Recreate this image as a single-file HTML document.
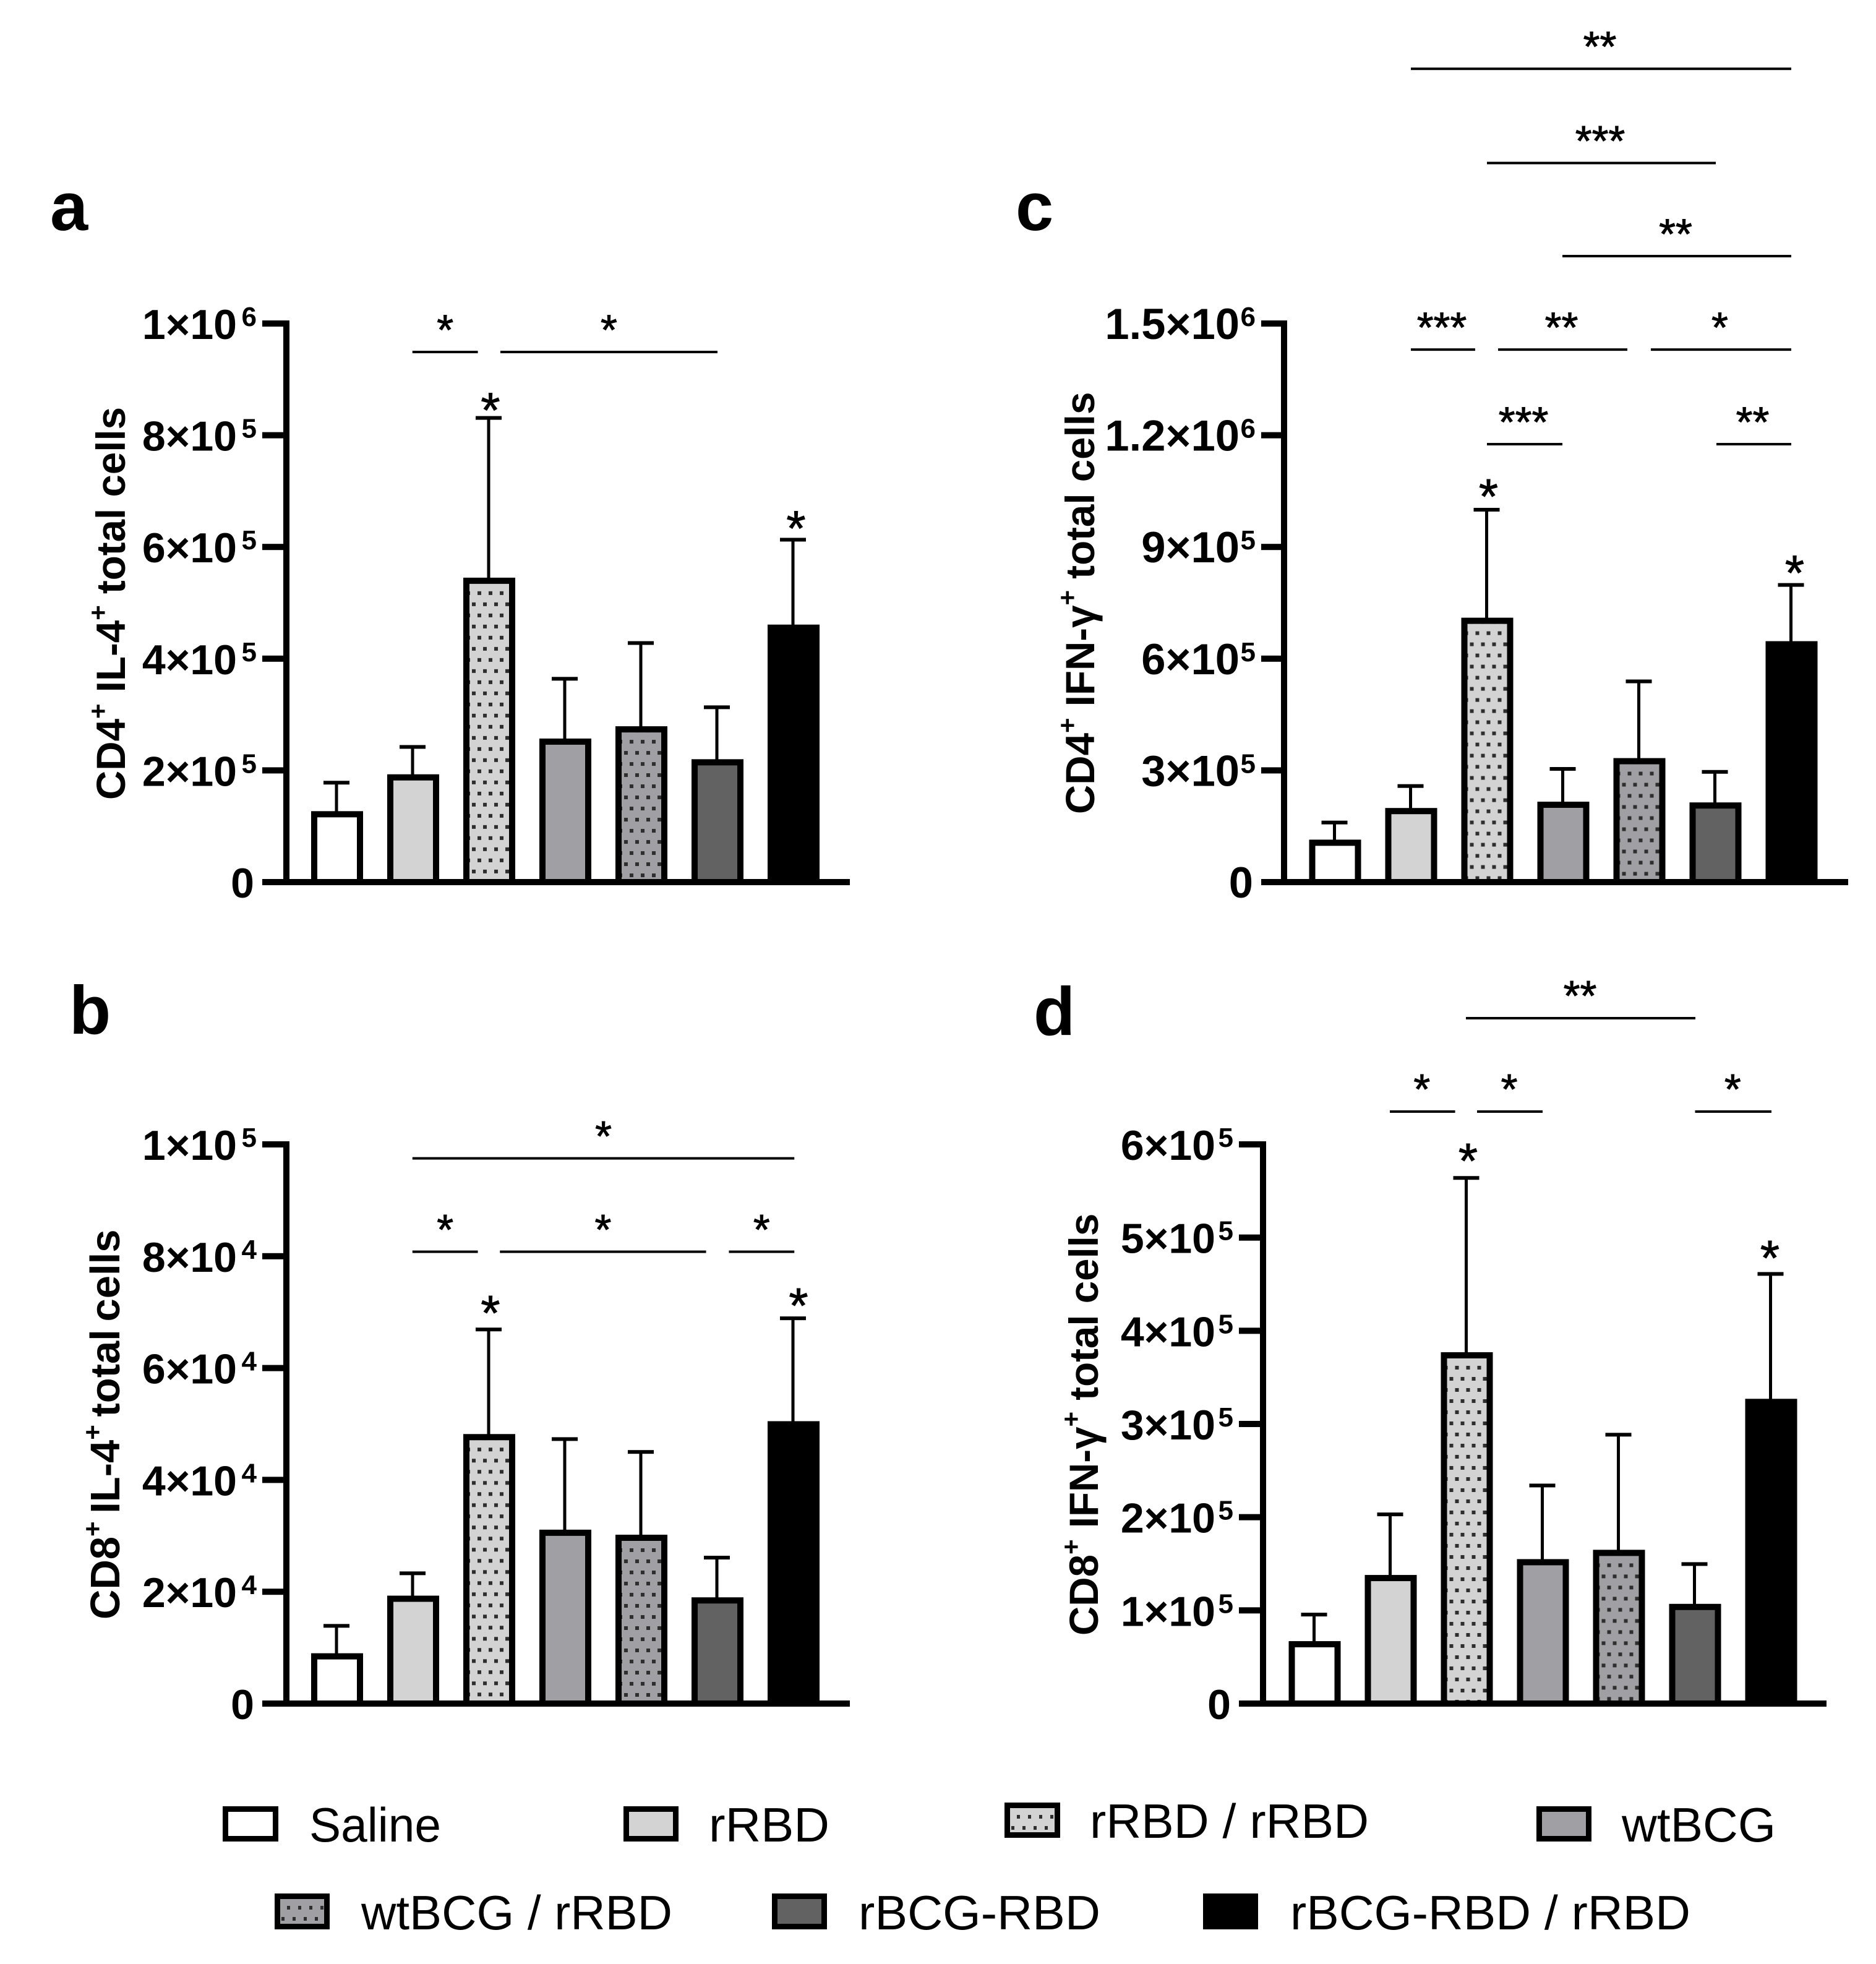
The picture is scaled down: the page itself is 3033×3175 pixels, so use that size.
<!DOCTYPE html>
<html lang="en">
<head>
<meta charset="utf-8">
<title>T cell cytokine bar charts</title>
<style>
html,body{margin:0;padding:0;background:#fff;}
svg{display:block;}
text{font-family:"Liberation Sans",Arial,sans-serif;fill:#000;}
.letter{font-weight:700;font-size:110px;}
.ytitle{font-weight:700;font-size:65.5px;}
.legend{font-size:78px;}
</style>
</head>
<body>
<svg id="chart" xmlns="http://www.w3.org/2000/svg" width="3033" height="3175" viewBox="0 0 3033 3175">
  <rect x="0" y="0" width="3033" height="3175" fill="#fff"/>
  <defs id="defs">
    <pattern id="legend-dots-a" patternUnits="userSpaceOnUse" x="1635" y="2922" width="18" height="36"><rect x="9" y="12" width="5" height="6" fill="#2e2e2e"/><rect x="0" y="30" width="5" height="6" fill="#2e2e2e"/></pattern>
    <pattern id="legend-dots-b" patternUnits="userSpaceOnUse" x="455" y="3069" width="18" height="36"><rect x="9" y="12" width="5" height="6" fill="#2e2e2e"/><rect x="0" y="30" width="5" height="6" fill="#2e2e2e"/></pattern>
  </defs>

  <text class="letter" x="81" y="372">a</text>
  <text class="letter" x="112" y="1671">b</text>
  <text class="letter" x="1642" y="372">c</text>
  <text class="letter" x="1671" y="1673">d</text>

  <text class="ytitle" transform="translate(202,1293) rotate(-90)">CD4<tspan font-size="42" dy="-29">+</tspan><tspan dy="29"> IL-4</tspan><tspan font-size="42" dy="-29">+</tspan><tspan dy="29"> total cells</tspan></text>
  <text class="ytitle" style="font-size:67px;word-spacing:-6px" transform="translate(193,2618) rotate(-90)">CD8<tspan font-size="42" dy="-29">+</tspan><tspan dy="29"> IL-4</tspan><tspan font-size="42" dy="-29">+</tspan><tspan dy="29"> total cells</tspan></text>
  <text class="ytitle" transform="translate(1769,1316) rotate(-90)">CD4<tspan font-size="42" dy="-29">+</tspan><tspan dy="29"> IFN-γ</tspan><tspan font-size="42" dy="-29">+</tspan><tspan dy="29"> total cells</tspan></text>
  <text class="ytitle" transform="translate(1775,2644) rotate(-90)">CD8<tspan font-size="42" dy="-29">+</tspan><tspan dy="29"> IFN-γ</tspan><tspan font-size="42" dy="-29">+</tspan><tspan dy="29"> total cells</tspan></text>

  <g>
    <g>
      <rect x="364.5" y="2924.5" width="81" height="48" fill="#fff" stroke="#000" stroke-width="9"/>
      <text class="legend" x="500" y="2977" textLength="213" lengthAdjust="spacingAndGlyphs">Saline</text>
    </g>
    <g>
      <rect x="1012.5" y="2924.5" width="80" height="48" fill="#d3d3d3" stroke="#000" stroke-width="9"/>
      <text class="legend" x="1146" y="2977" textLength="195" lengthAdjust="spacingAndGlyphs">rRBD</text>
    </g>
    <g>
      <rect x="1628.5" y="2918.5" width="81" height="48" fill="#d3d3d3" stroke="#000" stroke-width="9"/>
      <rect x="1633" y="2923" width="72" height="39" fill="url(#legend-dots-a)"/>
      <text class="legend" x="1762" y="2971" textLength="451" lengthAdjust="spacingAndGlyphs">rRBD / rRBD</text>
    </g>
    <g>
      <rect x="2488.5" y="2924.5" width="80" height="48" fill="#a0a0a4" stroke="#000" stroke-width="9"/>
      <text class="legend" x="2622" y="2977" textLength="249" lengthAdjust="spacingAndGlyphs">wtBCG</text>
    </g>
    <g>
      <rect x="448.5" y="3065.5" width="80" height="49" fill="#a0a0a4" stroke="#000" stroke-width="9"/>
      <rect x="453" y="3070" width="71" height="40" fill="url(#legend-dots-b)"/>
      <text class="legend" x="584" y="3119" textLength="503" lengthAdjust="spacingAndGlyphs">wtBCG / rRBD</text>
    </g>
    <g>
      <rect x="1252.5" y="3065.5" width="80" height="49" fill="#626262" stroke="#000" stroke-width="9"/>
      <text class="legend" x="1388" y="3119" textLength="391" lengthAdjust="spacingAndGlyphs">rBCG-RBD</text>
    </g>
    <g>
      <rect x="1949.5" y="3065.5" width="80" height="49" fill="#000" stroke="#000" stroke-width="9"/>
      <text class="legend" x="2086" y="3119" textLength="647" lengthAdjust="spacingAndGlyphs">rBCG-RBD / rRBD</text>
    </g>
  </g>
</svg>
<script>
const groups = ['Saline','rRBD','rRBD / rRBD','wtBCG','wtBCG / rRBD','rBCG-RBD','rBCG-RBD / rRBD'];
const groupFills = ['#ffffff','#d3d3d3','#d3d3d3','#a0a0a4','#a0a0a4','#626262','#000000'];
const groupDotted = [false,false,true,false,true,false,false];

const panelAMeans = [1.27e5,1.93e5,5.45e5,2.57e5,2.79e5,2.20e5,4.61e5];
const panelAUppers = [1.78e5,2.42e5,8.31e5,3.64e5,4.28e5,3.13e5,6.13e5];
const panelATicks = [0,2e5,4e5,6e5,8e5,1e6];
const panelATickBase = ['0','2×10','4×10','6×10','8×10','1×10'];
const panelATickExp = ['','5','5','5','5','6'];

const panelBMeans = [0.90e4,1.93e4,4.82e4,3.11e4,3.02e4,1.90e4,5.05e4];
const panelBUppers = [1.39e4,2.33e4,6.69e4,4.73e4,4.50e4,2.61e4,6.89e4];
const panelBTicks = [0,2e4,4e4,6e4,8e4,1e5];
const panelBTickBase = ['0','2×10','4×10','6×10','8×10','1×10'];
const panelBTickExp = ['','4','4','4','4','5'];

const panelCMeans = [1.14e5,1.99e5,7.10e5,2.16e5,3.33e5,2.14e5,6.47e5];
const panelCUppers = [1.60e5,2.58e5,10.0e5,3.04e5,5.39e5,2.96e5,7.98e5];
const panelCTicks = [0,3e5,6e5,9e5,1.2e6,1.5e6];
const panelCTickBase = ['0','3×10','6×10','9×10','1.2×10','1.5×10'];
const panelCTickExp = ['','5','5','5','6','6'];

const panelDMeans = [0.67e5,1.38e5,3.77e5,1.55e5,1.65e5,1.07e5,3.27e5];
const panelDUppers = [0.955e5,2.03e5,5.64e5,2.34e5,2.885e5,1.497e5,4.61e5];
const panelDTicks = [0,1e5,2e5,3e5,4e5,5e5,6e5];
const panelDTickBase = ['0','1×10','2×10','3×10','4×10','5×10','6×10'];
const panelDTickExp = ['','5','5','5','5','5','5'];

/* significance brackets: from / to in group-index units, level in axis units */
const panelASigFrom = [0.99,2.146];
const panelASigTo = [1.85,5.0];
const panelASigLevel = [9.49e5,9.49e5];
const panelASigLabel = ['*','*'];

const panelBSigFrom = [0.99,0.99,2.14,5.15];
const panelBSigTo = [6.01,1.85,4.85,6.01];
const panelBSigLevel = [9.75e4,8.08e4,8.08e4,8.08e4];
const panelBSigLabel = ['*','*','*','*'];

const panelCSigFrom = [0.996,1.996,2.988,0.996,2.142,4.150,1.996,5.012];
const panelCSigTo = [5.996,5.004,5.996,1.841,3.841,5.996,2.988,5.996];
const panelCSigLevel = [2.184e6,1.931e6,1.681e6,1.430e6,1.430e6,1.430e6,1.176e6,1.176e6];
const panelCSigLabel = ['**','***','**','***','**','*','***','**'];

const panelDSigFrom = [1.988,0.988,2.134,5.0];
const panelDSigTo = [5.004,1.846,2.996,6.004];
const panelDSigLevel = [7.354e5,6.352e5,6.352e5,6.352e5];
const panelDSigLabel = ['**','*','*','*'];

const NS = 'http://www.w3.org/2000/svg';
const svg = document.getElementById('chart');
const defs = document.getElementById('defs');

function mk(tag, attrs, parent) {
  const node = document.createElementNS(NS, tag);
  for (const k in attrs) node.setAttribute(k, attrs[k]);
  (parent || svg).appendChild(node);
  return node;
}

function drawPanel(p) {
  const yScale = v => p.y0 - (v / p.maxY) * p.span;
  const xScale = i => p.cat0 + i * 123;

  const g = mk('g', {}, svg);
  
  

  /* bars */
  p.means.forEach((m, i) => {
    const cx = xScale(i);
    const top = yScale(m);
    const capY = yScale(p.uppers[i]);

    const err = mk('rect', {x: cx - 3.5, y: capY, width: 5, height: top - capY + 2, fill: '#000'}, g);
    
    

    const cap = mk('rect', {x: cx - 22, y: capY - 3, width: 42, height: 6, fill: '#000'}, g);
    
    

    const bar = mk('rect', {x: cx - 37, y: top + 5, width: 74, height: p.y0 - top - 5, fill: groupFills[i], stroke: '#000', 'stroke-width': 10}, g);
    
    

    if (groupDotted[i]) {
      const pid = 'dots-' + p.key + '-' + i;
      const pat = mk('pattern', {id: pid, patternUnits: 'userSpaceOnUse', x: cx - 42 + 10 + 4, y: top + 10, width: 18, height: 36}, defs);
      mk('rect', {x: 9, y: 12, width: 6, height: 6, fill: '#2e2e2e'}, pat);
      mk('rect', {x: 0, y: 30, width: 6, height: 6, fill: '#2e2e2e'}, pat);
      const dots = mk('rect', {x: cx - 32, y: top + 10, width: 64, height: p.y0 - top - 10, fill: 'url(#' + pid + ')'}, g);
      
      
    }
  });

  /* y axis */
  const yTop = yScale(p.maxY);
  const axisY = mk('rect', {x: p.axisRight - 10, y: yTop - 5, width: 10, height: p.y0 - yTop + 10, fill: '#000'}, g);
  
  

  const axisX = mk('rect', {x: p.tickLeft, y: p.y0 - 5, width: p.xEnd - p.tickLeft, height: 10, fill: '#000'}, g);
  
  

  p.ticks.forEach((t, i) => {
    const y = yScale(t);
    const tick = mk('rect', {x: p.tickLeft, y: y - 5, width: p.axisRight - p.tickLeft, height: 10, fill: '#000'}, g);
    
    

    const hasExp = p.tickExp[i] !== '';
    const label = mk('text', {
      x: hasExp ? p.tickLeft - p.baseGap : p.tickLeft - 13,
      y: y + 25, 'text-anchor': 'end', 'font-size': p.tickFont, 'font-weight': 700
    }, g);
    label.textContent = p.tickBase[i];
    
    

    if (hasExp) {
      const exp = mk('text', {x: p.tickLeft - 9, y: y + 4, 'text-anchor': 'end', 'font-size': 44, 'font-weight': 700}, g);
      exp.textContent = p.tickExp[i];
      
      
    }
  });

  /* significance brackets */
  p.sigLabel.forEach((s, i) => {
    const x1 = xScale(p.sigFrom[i]);
    const x2 = xScale(p.sigTo[i]);
    const y = yScale(p.sigLevel[i]);
    const line = mk('rect', {x: x1, y: y - 2, width: x2 - x1, height: 4, fill: '#000'}, g);
    
    

    const star = mk('text', {x: (x1 + x2) / 2 + p.starDx, y: y - 44 + 0.46 * 69, 'text-anchor': 'middle', 'font-size': 69, stroke: '#000', 'stroke-width': 1}, g);
    star.textContent = s;
    
    
  });

  /* stars above bars */
  p.barStars.forEach(b => {
    const star = mk('text', {
      x: xScale(b.cat) + b.dx,
      y: yScale(p.uppers[b.cat]) - b.gap + 0.46 * 80,
      'text-anchor': 'middle', 'font-size': 80, stroke: '#000', 'stroke-width': 1
    }, g);
    star.textContent = '*';
    
    
  });
}

drawPanel({key:'a', means:panelAMeans, uppers:panelAUppers, ticks:panelATicks, tickBase:panelATickBase, tickExp:panelATickExp,
  sigFrom:panelASigFrom, sigTo:panelASigTo, sigLevel:panelASigLevel, sigLabel:panelASigLabel,
  maxY:1e6, y0:1426, span:903, cat0:545, tickLeft:424, axisRight:468, xEnd:1374, baseGap:41, tickFont:68, starDx:0,
  barStars:[{cat:2,dx:2,gap:22},{cat:6,dx:4,gap:28}]});

drawPanel({key:'b', means:panelBMeans, uppers:panelBUppers, ticks:panelBTicks, tickBase:panelBTickBase, tickExp:panelBTickExp,
  sigFrom:panelBSigFrom, sigTo:panelBSigTo, sigLevel:panelBSigLevel, sigLabel:panelBSigLabel,
  maxY:1e5, y0:2754, span:904, cat0:545, tickLeft:424, axisRight:468, xEnd:1374, baseGap:41, tickFont:68, starDx:0,
  barStars:[{cat:2,dx:2,gap:36},{cat:6,dx:8,gap:30}]});

drawPanel({key:'c', means:panelCMeans, uppers:panelCUppers, ticks:panelCTicks, tickBase:panelCTickBase, tickExp:panelCTickExp,
  sigFrom:panelCSigFrom, sigTo:panelCSigTo, sigLevel:panelCSigLevel, sigLabel:panelCSigLabel,
  maxY:1.5e6, y0:1426, span:903, cat0:2158.5, tickLeft:2039, axisRight:2081, xEnd:2988, baseGap:35, tickFont:70.5, starDx:-2,
  barStars:[{cat:2,dx:2,gap:31},{cat:6,dx:5,gap:29}]});

drawPanel({key:'d', means:panelDMeans, uppers:panelDUppers, ticks:panelDTicks, tickBase:panelDTickBase, tickExp:panelDTickExp,
  sigFrom:panelDSigFrom, sigTo:panelDSigTo, sigLevel:panelDSigLevel, sigLabel:panelDSigLabel,
  maxY:6e5, y0:2754, span:904, cat0:2125.5, tickLeft:2003, axisRight:2047, xEnd:2953, baseGap:38, tickFont:68, starDx:-1,
  barStars:[{cat:2,dx:2,gap:37},{cat:6,dx:-2,gap:35}]});
</script>
</body>
</html>
